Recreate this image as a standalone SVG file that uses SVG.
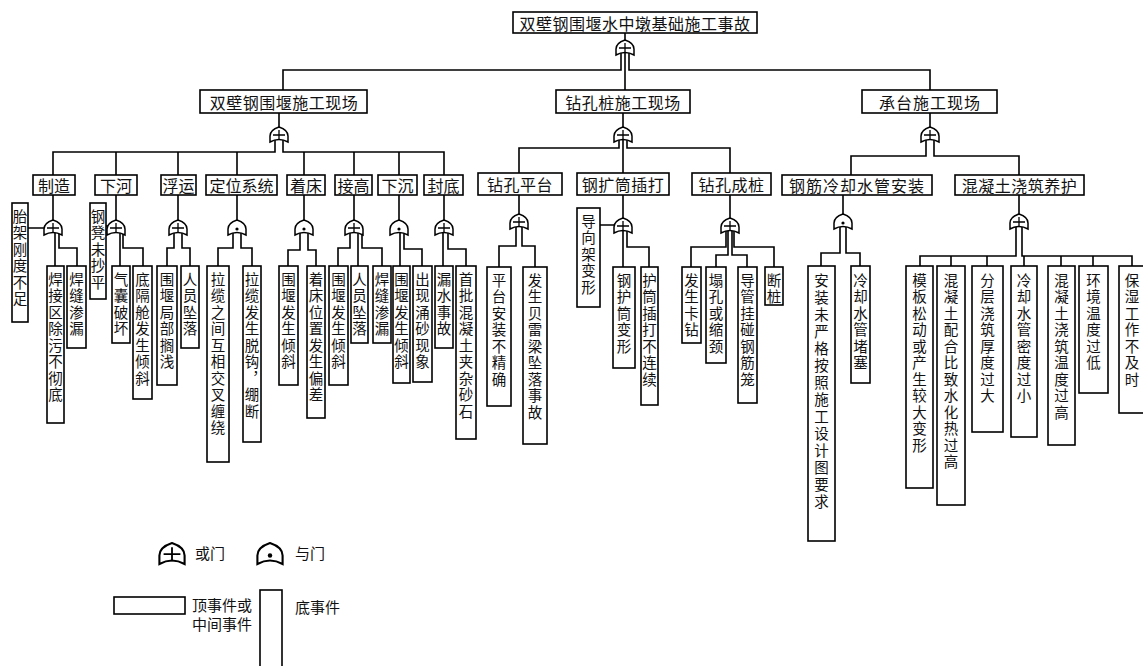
<svg xmlns="http://www.w3.org/2000/svg" width="1143" height="666" viewBox="0 0 1143 666">
<style>
.b{fill:#fff;stroke:#000;stroke-width:1.6}
.t{font-family:"Noto Sans CJK SC","Noto Sans CJK JP",sans-serif;font-size:16px;fill:#111;text-anchor:middle;dominant-baseline:central}
.v{writing-mode:vertical-rl;text-anchor:start;letter-spacing:2px;font-size:14.5px}
.l{text-anchor:start;font-size:15px}
.c{fill:none;stroke:#000;stroke-width:1.6}
.gs{fill:#fff;stroke:#000;stroke-width:1.5}
.gm{fill:none;stroke:#000;stroke-width:1.3}
</style>
<defs>
<g id="orG"><path class="gs" d="M-9,15 L-9,9 Q-9,3 0,0 Q9,3 9,9 L9,15 Q0,10 -9,15 Z"/><path class="gm" d="M-6,8 H6 M0,3 V13"/></g>
<g id="andG"><path class="gs" d="M-9,15 L-9,9 Q-9,3 0,0 Q9,3 9,9 L9,15 Q0,10 -9,15 Z"/><circle cx="0" cy="9" r="1.6" fill="#000"/></g>
</defs>
<rect width="1143" height="666" fill="#fff"/>
<g id="connectors">
<path class="c" d="M625,33 V40 M621,53 V70 H283 V90 M629,53 V70 H930 V90 M625,53 V90"/>
<path class="c" d="M279,113 V127 M275,140 V152 H53 V175 M283,140 V152 H444 V175 M116,152 V175 M178,152 V175 M237,152 V175 M304,152 V175 M354,152 V175 M399,152 V175"/>
<path class="c" d="M623,113 V127 M619,140 V148 H519 V173 M627,140 V148 H730 V173 M623,140 V173"/>
<path class="c" d="M930,113 V127 M926,140 V156 H851 V175 M934,140 V156 H1019 V175"/>
<path class="c" d="M53,195 V220 M116,195 V220 M178,195 V220 M237,195 V220 M304,195 V220 M354,195 V220 M399,195 V220 M444,195 V220"/>
<path class="c" d="M28,228 H45 M55,233 V266 M59,233 V248 H77 V266"/>
<path class="c" d="M106,226 H108 M120,233 V266 M123,233 V248 H143 V266"/>
<path class="c" d="M174,233 V248 H167 V266 M182,233 V248 H190 V266"/>
<path class="c" d="M233,233 V248 H218 V266 M241,233 V248 H252 V266"/>
<path class="c" d="M300,233 V250 H288 V266 M308,233 V250 H316 V266"/>
<path class="c" d="M350,233 V248 H338 V266 M358,233 V266 M362,233 V248 H382 V266"/>
<path class="c" d="M400,233 V266 M404,233 V249 H422 V266"/>
<path class="c" d="M443,233 V266 M448,233 V249 H466 V266"/>
<path class="c" d="M519,195 V214 M516,227 V246 H499 V267 M522,227 V246 H535 V267"/>
<path class="c" d="M623,195 V218 M600,225 H614 M623,231 V267 M627,231 V247 H649 V267"/>
<path class="c" d="M730,195 V218 M726,231 V247 H691 V267 M728,231 V255 H716 V267 M732,231 V255 H747 V267 M734,231 V247 H774 V267"/>
<path class="c" d="M843,195 V214 M840,227 V253 H821 V266 M846,227 V253 H860 V266"/>
<path class="c" d="M1019,195 V214 M1016,227 V256 H920 V266 M1022,227 V256 H1132 V266 M951,256 V266 M987,256 V266 M1024,256 V266 M1061,256 V266 M1093,256 V266"/>
</g>
<g id="n-top"><rect class="b" x="513" y="12" width="244" height="21"/><text class="t" x="635" y="23" style="letter-spacing:0.5px">双壁钢围堰水中墩基础施工事故</text><use href="#orG" x="625" y="40"/></g>
<g id="n-a"><rect class="b" x="200" y="90" width="167" height="23"/><text class="t" x="284" y="102" style="letter-spacing:0.5px">双壁钢围堰施工现场</text><use href="#orG" x="279" y="127"/></g>
<g id="n-b"><rect class="b" x="556" y="90" width="134" height="23"/><text class="t" x="623" y="102" style="letter-spacing:0.5px">钻孔桩施工现场</text><use href="#orG" x="623" y="127"/></g>
<g id="n-c"><rect class="b" x="862" y="90" width="135" height="23"/><text class="t" x="930" y="102" style="letter-spacing:1px">承台施工现场</text><use href="#orG" x="930" y="127"/></g>
<g id="n-a1"><rect class="b" x="33" y="175" width="42" height="20"/><text class="t" x="54" y="185">制造</text><use href="#orG" x="53" y="220"/></g>
<g id="n-a2"><rect class="b" x="95" y="175" width="42" height="20"/><text class="t" x="116" y="185">下河</text><use href="#orG" x="116" y="220"/></g>
<g id="n-a3"><rect class="b" x="161" y="175" width="35" height="20"/><text class="t" x="178.5" y="185">浮运</text><use href="#orG" x="178" y="220"/></g>
<g id="n-a4"><rect class="b" x="206" y="175" width="71" height="20"/><text class="t" x="241.5" y="185">定位系统</text><use href="#andG" x="237" y="220"/></g>
<g id="n-a5"><rect class="b" x="287" y="175" width="38" height="20"/><text class="t" x="306" y="185">着床</text><use href="#andG" x="304" y="220"/></g>
<g id="n-a6"><rect class="b" x="335" y="175" width="37" height="20"/><text class="t" x="353.5" y="185">接高</text><use href="#orG" x="354" y="220"/></g>
<g id="n-a7"><rect class="b" x="378" y="175" width="39" height="20"/><text class="t" x="397.5" y="185">下沉</text><use href="#andG" x="399" y="220"/></g>
<g id="n-a8"><rect class="b" x="424" y="175" width="39" height="20"/><text class="t" x="443.5" y="185">封底</text><use href="#orG" x="444" y="220"/></g>
<g id="n-b1"><rect class="b" x="478" y="173" width="84" height="22"/><text class="t" x="520" y="184" style="letter-spacing:0.5px">钻孔平台</text><use href="#orG" x="519" y="214"/></g>
<g id="n-b2"><rect class="b" x="577" y="173" width="92" height="22"/><text class="t" x="623" y="184" style="letter-spacing:0.5px">钢扩筒插打</text><use href="#orG" x="623" y="218"/></g>
<g id="n-b3"><rect class="b" x="692" y="173" width="79" height="22"/><text class="t" x="731.5" y="184" style="letter-spacing:0.5px">钻孔成桩</text><use href="#orG" x="730" y="218"/></g>
<g id="n-c1"><rect class="b" x="782" y="175" width="150" height="20"/><text class="t" x="857" y="185" style="letter-spacing:1px">钢筋冷却水管安装</text><use href="#andG" x="843" y="214"/></g>
<g id="n-c2"><rect class="b" x="955" y="175" width="129" height="20"/><text class="t" x="1019.5" y="185" style="letter-spacing:0.5px">混凝土浇筑养护</text><use href="#orG" x="1019" y="214"/></g>
<g id="e1"><rect class="b" x="12" y="203" width="16" height="119"/><text class="t v" x="20" y="209">胎架刚度不足</text></g>
<g id="e2"><rect class="b" x="47" y="266" width="17" height="157"/><text class="t v" x="55.5" y="272">焊接区除污不彻底</text></g>
<g id="e3"><rect class="b" x="67" y="266" width="19" height="82"/><text class="t v" x="76.5" y="272">焊缝渗漏</text></g>
<g id="e4"><rect class="b" x="90" y="203" width="16" height="96"/><text class="t v" x="98" y="209">钢凳未抄平</text></g>
<g id="e5"><rect class="b" x="112" y="266" width="18" height="77"/><text class="t v" x="121" y="272">气囊破坏</text></g>
<g id="e6"><rect class="b" x="133" y="266" width="19" height="133"/><text class="t v" x="142.5" y="272">底隔舱发生倾斜</text></g>
<g id="e7"><rect class="b" x="157" y="266" width="20" height="119"/><text class="t v" x="167" y="272">围堰局部搁浅</text></g>
<g id="e8"><rect class="b" x="181" y="266" width="18" height="82"/><text class="t v" x="190" y="272">人员坠落</text></g>
<g id="e9"><rect class="b" x="207" y="266" width="22" height="196"/><text class="t v" x="218" y="272">拉缆之间互相交叉缠绕</text></g>
<g id="e10"><rect class="b" x="243" y="266" width="18" height="176"/><text class="t v" x="252" y="272">拉缆发生脱钩，绷断</text></g>
<g id="e11"><rect class="b" x="279" y="266" width="19" height="119"/><text class="t v" x="288.5" y="272">围堰发生倾斜</text></g>
<g id="e12"><rect class="b" x="307" y="266" width="18" height="152"/><text class="t v" x="316" y="272">着床位置发生偏差</text></g>
<g id="e13"><rect class="b" x="329" y="266" width="19" height="119"/><text class="t v" x="338.5" y="272">围堰发生倾斜</text></g>
<g id="e14"><rect class="b" x="351" y="266" width="17" height="77"/><text class="t v" x="359.5" y="272">人员坠落</text></g>
<g id="e15"><rect class="b" x="373" y="266" width="18" height="77"/><text class="t v" x="382" y="272">焊缝渗漏</text></g>
<g id="e16"><rect class="b" x="393" y="266" width="17" height="117"/><text class="t v" x="401.5" y="272">围堰发生倾斜</text></g>
<g id="e17"><rect class="b" x="413" y="266" width="19" height="116"/><text class="t v" x="422.5" y="272">出现涌砂现象</text></g>
<g id="e18"><rect class="b" x="435" y="266" width="18" height="82"/><text class="t v" x="444" y="272">漏水事故</text></g>
<g id="e19"><rect class="b" x="456" y="266" width="20" height="173"/><text class="t v" x="466" y="272">首批混凝土夹杂砂石</text></g>
<g id="e20"><rect class="b" x="487" y="267" width="24" height="139"/><text class="t v" x="499" y="273">平台安装不精确</text></g>
<g id="e21"><rect class="b" x="523" y="267" width="24" height="177"/><text class="t v" x="535" y="273">发生贝雷梁坠落事故</text></g>
<g id="e22"><rect class="b" x="577" y="208" width="23" height="99"/><text class="t v" x="588.5" y="214">导向架变形</text></g>
<g id="e23"><rect class="b" x="613" y="267" width="22" height="101"/><text class="t v" x="624" y="273">钢护筒变形</text></g>
<g id="e24"><rect class="b" x="641" y="267" width="17" height="138"/><text class="t v" x="649.5" y="273">护筒插打不连续</text></g>
<g id="e25"><rect class="b" x="682" y="267" width="19" height="76"/><text class="t v" x="691.5" y="273">发生卡钻</text></g>
<g id="e26"><rect class="b" x="706" y="267" width="20" height="96"/><text class="t v" x="716" y="273">塌孔或缩颈</text></g>
<g id="e27"><rect class="b" x="738" y="267" width="19" height="136"/><text class="t v" x="747.5" y="273">导管挂碰钢筋笼</text></g>
<g id="e28"><rect class="b" x="765" y="267" width="18" height="38"/><text class="t v" x="774" y="273">断桩</text></g>
<g id="e29"><rect class="b" x="808" y="266" width="27" height="275"/><text class="t v" x="821.5" y="273" style="letter-spacing:2.5px">安装未严格按照施工设计图要求</text></g>
<g id="e30"><rect class="b" x="851" y="266" width="19" height="117"/><text class="t v" x="860.5" y="273">冷却水管堵塞</text></g>
<g id="e31"><rect class="b" x="906" y="266" width="27" height="222"/><text class="t v" x="919.5" y="273">模板松动或产生较大变形</text></g>
<g id="e32"><rect class="b" x="937" y="266" width="28" height="239"/><text class="t v" x="951" y="273">混凝土配合比致水化热过高</text></g>
<g id="e33"><rect class="b" x="972" y="266" width="31" height="166"/><text class="t v" x="987.5" y="273">分层浇筑厚度过大</text></g>
<g id="e34"><rect class="b" x="1011" y="266" width="26" height="171"/><text class="t v" x="1024" y="273">冷却水管密度过小</text></g>
<g id="e35"><rect class="b" x="1048" y="266" width="27" height="179"/><text class="t v" x="1061.5" y="273">混凝土浇筑温度过高</text></g>
<g id="e36"><rect class="b" x="1079" y="266" width="29" height="127"/><text class="t v" x="1093.5" y="273">环境温度过低</text></g>
<g id="e37"><rect class="b" x="1119" y="266" width="28" height="147"/><text class="t v" x="1132" y="273">保湿工作不及时</text></g>
<g id="legend">
<use href="#orG" transform="translate(172,543) scale(1.4)"/>
<text class="t l" x="195" y="552">或门</text>
<use href="#andG" transform="translate(270,543) scale(1.4)"/>
<text class="t l" x="295" y="552">与门</text>
<rect class="b" x="114" y="597" width="71" height="17"/>
<text class="t l" x="192" y="604">顶事件或</text>
<text class="t l" x="192" y="623">中间事件</text>
<rect class="b" x="260" y="590" width="22" height="82"/>
<text class="t l" x="295" y="606">底事件</text>
</g>
</svg>
